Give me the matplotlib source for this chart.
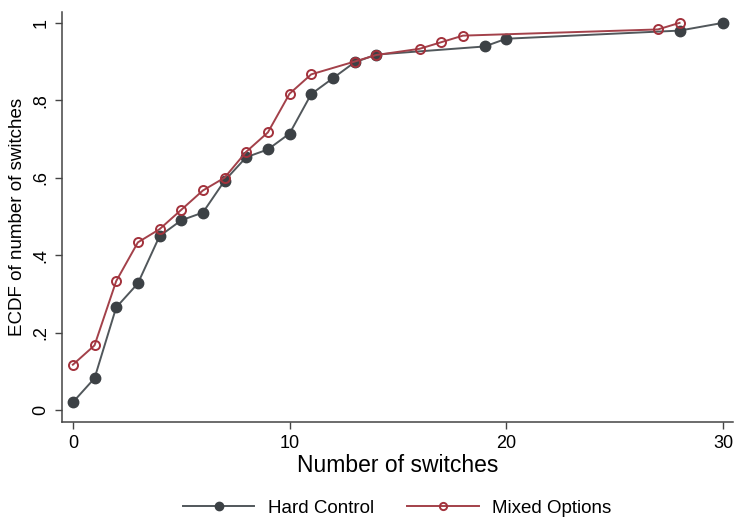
import matplotlib
matplotlib.use("Agg")
import matplotlib.pyplot as plt

plt.rcParams['font.family'] = ['Liberation Sans', 'DejaVu Sans']

# data
hard_x = [0, 1, 2, 3, 4, 5, 6, 7, 8, 9, 10, 11, 12, 13, 14, 19, 20, 28, 30]
hard_y = [0.020, 0.082, 0.265, 0.327, 0.449, 0.490, 0.510, 0.592, 0.653, 0.673,
          0.714, 0.816, 0.857, 0.898, 0.918, 0.939, 0.959, 0.980, 1.0]
mixed_x = [0, 1, 2, 3, 4, 5, 6, 7, 8, 9, 10, 11, 13, 14, 16, 17, 18, 27, 28]
mixed_y = [0.117, 0.167, 0.333, 0.433, 0.467, 0.517, 0.567, 0.600, 0.667, 0.717,
           0.817, 0.867, 0.900, 0.917, 0.933, 0.950, 0.967, 0.983, 1.0]
yticks = [0, 0.2, 0.4, 0.6, 0.8, 1.0]
ytick_labels = ["0", ".2", ".4", ".6", ".8", "1"]
xticks = [0, 10, 20, 30]

fig = plt.figure(figsize=(7.34, 5.18), dpi=100)
ax = fig.add_axes([0.0845, 0.1853, 0.914, 0.7915])

ax.plot(hard_x, hard_y, color='#51575b', lw=1.4, marker='o', ms=7.5,
        mfc='#3c4145', mec='#3c4145', label='Hard Control', zorder=3)
ax.plot(mixed_x, mixed_y, color='#a3414a', lw=1.4, marker='o', ms=6.5,
        mfc='none', mec='#a3323c', mew=1.4, label='Mixed Options', zorder=4)

ax.set_xlim(-0.5, 30.46)
ax.set_ylim(-0.031, 1.028)
ax.set_xticks(xticks)
ax.set_yticks(yticks)
ax.set_yticklabels(ytick_labels, rotation=90, va='center')
ax.tick_params(axis='both', direction='out', length=5, width=1, color='#444444',
               labelsize=13, pad=4)

for s in ['top', 'right']:
    ax.spines[s].set_visible(False)
for s in ['left', 'bottom']:
    ax.spines[s].set_color('#444444')
    ax.spines[s].set_linewidth(1.1)

ax.set_xlabel("Number of switches", fontsize=16.5, labelpad=2)
ax.set_ylabel("ECDF of number of switches", fontsize=13.5, labelpad=5)

fig.legend(loc='center', bbox_to_anchor=(0.541, 0.0193), ncol=2, frameon=False,
           fontsize=13.5, handlelength=3.8, columnspacing=1.8, handletextpad=0.7,
           markerscale=0.8)

fig.savefig("out.png", dpi=100)
